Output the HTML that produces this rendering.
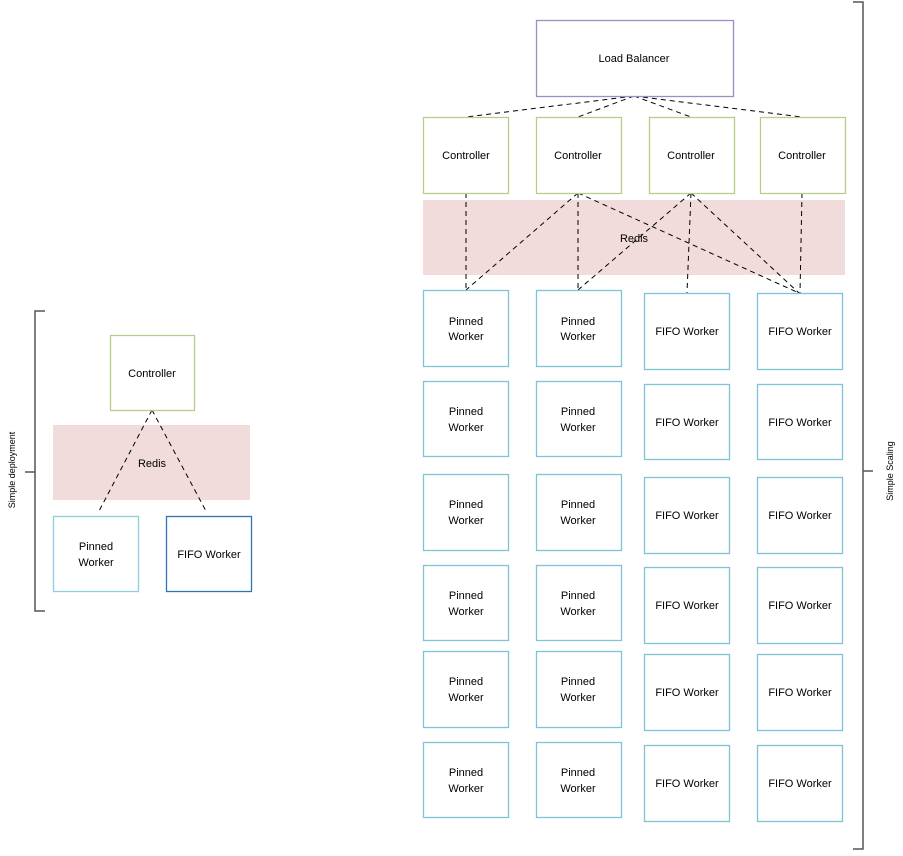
<!DOCTYPE html>
<html><head><style>
body{margin:0;background:#fff;}
svg text{font-family:"Liberation Sans",sans-serif;font-size:11px;fill:#000;}
</style></head><body>
<svg width="903" height="851" xmlns="http://www.w3.org/2000/svg">
<g fill="none" stroke="#000" stroke-width="1" stroke-dasharray="5,4">
</g>
<!-- redis bands -->
<rect x="423" y="200" width="422" height="75" fill="#f2dcdb"/>
<rect x="53" y="425" width="197" height="75" fill="#f2dcdb"/>
<text x="634" y="242" text-anchor="middle">Redis</text>
<text x="152" y="467" text-anchor="middle">Redis</text>
<g fill="none" stroke="#000" stroke-width="1" stroke-dasharray="5,4">
<line x1="634" y1="96" x2="466" y2="117"/>
<line x1="634" y1="96" x2="578" y2="117"/>
<line x1="634" y1="96" x2="691" y2="117"/>
<line x1="634" y1="96" x2="802" y2="117"/>
<line x1="466" y1="193" x2="466" y2="290"/>
<line x1="578" y1="193" x2="466" y2="290"/>
<line x1="578" y1="193" x2="578" y2="290"/>
<line x1="578" y1="193" x2="799" y2="293"/>
<line x1="691" y1="193" x2="578" y2="290"/>
<line x1="691" y1="193" x2="687" y2="293"/>
<line x1="691" y1="193" x2="799" y2="293"/>
<line x1="802" y1="193" x2="800" y2="293"/>
<line x1="152" y1="410" x2="98" y2="513"/>
<line x1="152" y1="410" x2="207" y2="513"/>
</g>
<g fill="#fff" stroke-width="1.3">
<rect x="536.5" y="20.5" width="197" height="76" stroke="#a08cc0"/>
<rect x="423.5" y="117.5" width="85" height="76" stroke="#b5cf8a"/>
<rect x="536.5" y="117.5" width="85" height="76" stroke="#b5cf8a"/>
<rect x="649.5" y="117.5" width="85" height="76" stroke="#b5cf8a"/>
<rect x="760.5" y="117.5" width="85" height="76" stroke="#b5cf8a"/>
<rect x="110.5" y="335.5" width="84" height="75" stroke="#b5cf8a"/>
<rect x="53.5" y="516.5" width="85" height="75" stroke="#92cddc"/>
<rect x="166.5" y="516.5" width="85" height="75" stroke="#2e75b6"/>
</g>
<text x="634" y="62" text-anchor="middle">Load Balancer</text>
<text x="466" y="159" text-anchor="middle">Controller</text>
<text x="578" y="159" text-anchor="middle">Controller</text>
<text x="691" y="159" text-anchor="middle">Controller</text>
<text x="802" y="159" text-anchor="middle">Controller</text>
<text x="152" y="377" text-anchor="middle">Controller</text>
<text x="96" y="550" text-anchor="middle">Pinned</text>
<text x="96" y="566" text-anchor="middle">Worker</text>
<text x="209" y="558" text-anchor="middle">FIFO Worker</text>
<g fill="#fff" stroke="#7ec3d6" stroke-width="1.3">
<rect x="423.5" y="290.5" width="85" height="76"/><rect x="536.5" y="290.5" width="85" height="76"/>
<rect x="644.5" y="293.5" width="85" height="76"/><rect x="757.5" y="293.5" width="85" height="76"/>
<rect x="423.5" y="381.5" width="85" height="75"/><rect x="536.5" y="381.5" width="85" height="75"/>
<rect x="644.5" y="384.5" width="85" height="75"/><rect x="757.5" y="384.5" width="85" height="75"/>
<rect x="423.5" y="474.5" width="85" height="76"/><rect x="536.5" y="474.5" width="85" height="76"/>
<rect x="644.5" y="477.5" width="85" height="76"/><rect x="757.5" y="477.5" width="85" height="76"/>
<rect x="423.5" y="565.5" width="85" height="75"/><rect x="536.5" y="565.5" width="85" height="75"/>
<rect x="644.5" y="567.5" width="85" height="76"/><rect x="757.5" y="567.5" width="85" height="76"/>
<rect x="423.5" y="651.5" width="85" height="76"/><rect x="536.5" y="651.5" width="85" height="76"/>
<rect x="644.5" y="654.5" width="85" height="76"/><rect x="757.5" y="654.5" width="85" height="76"/>
<rect x="423.5" y="742.5" width="85" height="75"/><rect x="536.5" y="742.5" width="85" height="75"/>
<rect x="644.5" y="745.5" width="85" height="76"/><rect x="757.5" y="745.5" width="85" height="76"/>
</g>
<g text-anchor="middle">
<text x="466" y="325">Pinned</text><text x="466" y="340">Worker</text>
<text x="578" y="325">Pinned</text><text x="578" y="340">Worker</text>
<text x="687" y="335">FIFO Worker</text><text x="800" y="335">FIFO Worker</text>
<text x="466" y="415">Pinned</text><text x="466" y="431">Worker</text>
<text x="578" y="415">Pinned</text><text x="578" y="431">Worker</text>
<text x="687" y="426">FIFO Worker</text><text x="800" y="426">FIFO Worker</text>
<text x="466" y="508">Pinned</text><text x="466" y="524">Worker</text>
<text x="578" y="508">Pinned</text><text x="578" y="524">Worker</text>
<text x="687" y="519">FIFO Worker</text><text x="800" y="519">FIFO Worker</text>
<text x="466" y="599">Pinned</text><text x="466" y="615">Worker</text>
<text x="578" y="599">Pinned</text><text x="578" y="615">Worker</text>
<text x="687" y="609">FIFO Worker</text><text x="800" y="609">FIFO Worker</text>
<text x="466" y="685">Pinned</text><text x="466" y="701">Worker</text>
<text x="578" y="685">Pinned</text><text x="578" y="701">Worker</text>
<text x="687" y="696">FIFO Worker</text><text x="800" y="696">FIFO Worker</text>
<text x="466" y="776">Pinned</text><text x="466" y="792">Worker</text>
<text x="578" y="776">Pinned</text><text x="578" y="792">Worker</text>
<text x="687" y="787">FIFO Worker</text><text x="800" y="787">FIFO Worker</text>
</g>
<!-- brackets -->
<g fill="none" stroke="#555" stroke-width="1.5">
<path d="M45,311 H35 V611 H45"/>
<line x1="25" y1="472" x2="35" y2="472"/>
<path d="M853,2 H863 V849 H853"/>
<line x1="863" y1="471" x2="873" y2="471"/>
</g>
<text x="15" y="470" text-anchor="middle" transform="rotate(-90 15 470)" style="font-size:9px">Simple deployment</text>
<text x="893" y="471" text-anchor="middle" transform="rotate(-90 893 471)" style="font-size:9px">Simple Scaling</text>
</svg>
</body></html>
